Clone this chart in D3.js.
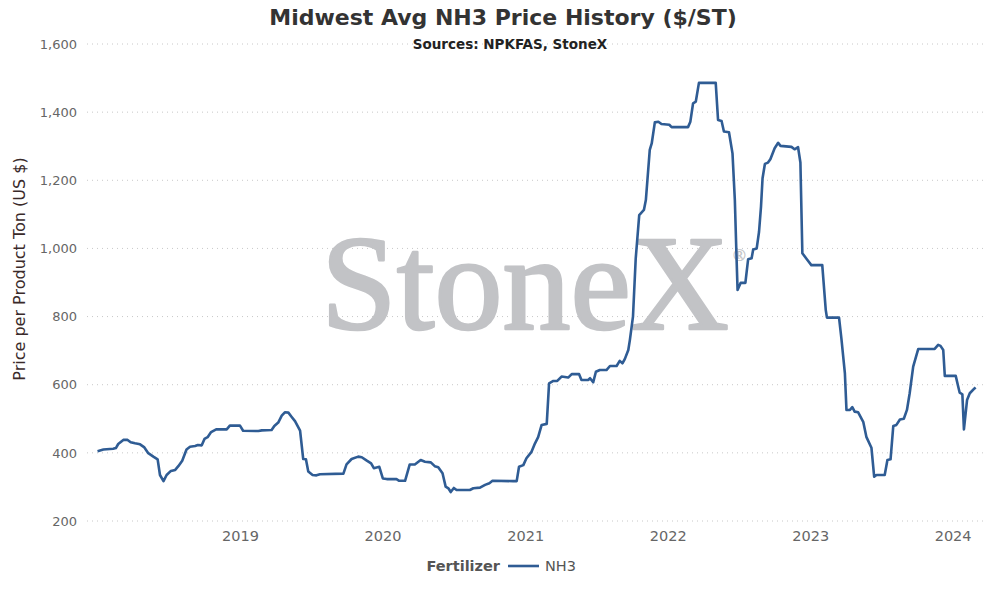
<!DOCTYPE html>
<html>
<head>
<meta charset="utf-8">
<script src="https://cdn.jsdelivr.net/npm/d3@7"></script>
<style>
  body { margin: 0; background: #fff; }
  svg { display: block; }
</style>
</head>
<body>
<div id="chart"></div>
<script>
// NH3 price, $/ST
const dates = [
  "2018-01-01","2018-01-16","2018-02-10","2018-02-17","2018-02-23","2018-03-08","2018-03-19","2018-03-27",
  "2018-04-07","2018-04-20","2018-05-01","2018-05-11","2018-05-24","2018-06-04","2018-06-10","2018-06-19",
  "2018-06-27","2018-07-08","2018-07-19","2018-07-27","2018-08-06","2018-08-17","2018-08-26","2018-09-08",
  "2018-09-15","2018-09-25","2018-10-02","2018-10-10","2018-10-19","2018-11-01","2018-11-28","2018-12-06",
  "2019-01-01","2019-01-09","2019-02-17","2019-02-26","2019-03-23","2019-03-30","2019-04-09","2019-04-18",
  "2019-04-26","2019-05-05","2019-05-13","2019-05-22","2019-06-04","2019-06-12","2019-06-19","2019-06-25",
  "2019-07-06","2019-07-16","2019-07-25","2019-09-23","2019-10-01","2019-10-14","2019-10-31","2019-11-09",
  "2019-11-22","2019-12-03","2019-12-10","2019-12-24","2020-01-02","2020-01-12","2020-02-06","2020-02-13",
  "2020-02-28","2020-03-11","2020-03-24","2020-04-08","2020-04-19","2020-05-04","2020-05-14","2020-05-23",
  "2020-06-03","2020-06-11","2020-06-18","2020-06-24","2020-07-02","2020-07-09","2020-08-12","2020-08-21",
  "2020-09-07","2020-09-20","2020-10-01","2020-10-09","2020-12-01","2020-12-10","2020-12-16","2020-12-27",
  "2021-01-04","2021-01-17","2021-01-26","2021-02-03","2021-02-12","2021-02-25","2021-03-03","2021-03-14",
  "2021-03-24","2021-04-04","2021-04-21","2021-04-30","2021-05-19","2021-05-25","2021-06-11","2021-06-16",
  "2021-06-24","2021-07-01","2021-07-11","2021-07-28","2021-08-06","2021-08-23","2021-08-31","2021-09-07",
  "2021-09-13","2021-09-22","2021-09-26","2021-10-04","2021-10-11","2021-10-20","2021-11-01","2021-11-06",
  "2021-11-16","2021-11-21","2021-11-29","2021-12-08","2021-12-16","2022-01-05","2022-01-11","2022-02-22",
  "2022-02-28","2022-03-07","2022-03-14","2022-03-22","2022-05-04","2022-05-10","2022-05-19","2022-05-25",
  "2022-06-07","2022-06-16","2022-06-22","2022-06-26","2022-06-29","2022-07-07","2022-07-19","2022-07-26",
  "2022-08-04","2022-08-08","2022-08-17","2022-08-23","2022-08-28","2022-09-01","2022-09-07","2022-09-15",
  "2022-09-21","2022-10-02","2022-10-11","2022-10-17","2022-11-14","2022-11-22","2022-12-01","2022-12-07",
  "2022-12-12","2022-12-23","2023-01-04","2023-02-01","2023-02-10","2023-02-13","2023-03-16","2023-03-22",
  "2023-03-31","2023-04-04","2023-04-13","2023-04-19","2023-04-25","2023-05-04","2023-05-17","2023-05-25",
  "2023-06-07","2023-06-14","2023-06-20","2023-07-11","2023-07-18","2023-07-26","2023-08-02","2023-08-10",
  "2023-08-19","2023-08-29","2023-09-06","2023-09-13","2023-09-22","2023-10-05","2023-11-16","2023-11-25",
  "2023-12-01","2023-12-08","2023-12-12","2024-01-09","2024-01-15","2024-01-19","2024-01-26","2024-01-30",
  "2024-02-07","2024-02-14","2024-02-26","2024-02-29"
];
const nh3 = [
  405,410,412,414,426,438,438,431,
  428,425,416,399,389,381,335,317,
  335,347,350,361,377,410,418,420,
  423,422,441,446,461,469,469,480,
  480,465,464,466,467,479,489,509,
  519,518,506,493,465,382,381,345,
  335,334,337,339,366,382,389,387,
  377,369,355,359,325,323,323,318,
  318,366,366,379,374,372,361,358,
  340,301,296,285,297,291,291,296,
  298,306,311,318,317,317,359,364,
  384,403,428,446,482,485,604,611,
  611,624,621,631,631,614,614,619,
  607,638,643,643,655,655,670,663,
  675,702,731,800,970,1098,1113,1142,
  1289,1308,1370,1372,1365,1363,1356,1356,
  1372,1426,1431,1486,1486,1377,1374,1343,
  1341,1279,1142,986,878,899,899,968,
  971,997,1000,1049,1122,1206,1248,1252,
  1262,1294,1310,1301,1298,1291,1297,1252,
  986,969,951,951,819,797,797,736,
  633,526,526,534,521,519,491,447,
  415,330,335,335,379,381,479,482,
  498,500,526,575,653,705,705,717,
  714,702,626,626,596,577,572,469,
  555,575,589,592
];
const yTicks = [200, 400, 600, 800, 1000, 1200, 1400, 1600];
const xTicks = ["2019-01-01","2020-01-01","2021-01-01","2022-01-01","2023-01-01","2024-01-01"];

const width = 1002, height = 598;
const font = "'DejaVu Sans', Verdana, sans-serif";
const parse = d3.timeParse("%Y-%m-%d");
const data = dates.map((d, i) => ({ date: parse(d), value: nh3[i] }));

const svg = d3.select("#chart").append("svg")
  .attr("width", width).attr("height", height)
  .style("font-family", font);

const x = d3.scaleTime()
  .domain([parse("2017-12-05"), parse("2024-03-24")])
  .range([87, 985]);
const y = d3.scaleLinear().domain([200, 1600]).range([521, 44]);

// dotted grid
svg.append("g").selectAll("line")
  .data(yTicks).enter().append("line")
  .attr("x1", 87).attr("x2", 985)
  .attr("y1", d => y(d)).attr("y2", d => y(d))
  .attr("stroke", "#c8c8c8").attr("stroke-width", 1)
  .attr("stroke-dasharray", "1,4");

// watermark
const wm = svg.append("text")
  .attr("x", 321).attr("y", 329)
  .attr("font-family", "'Liberation Serif', 'Times New Roman', serif")
  .attr("font-size", 136)
  .attr("fill", "#c2c3c6")
  .attr("stroke", "#c2c3c6")
  .attr("stroke-width", 2.6)
  .attr("stroke-linejoin", "round")
  .text("StoneX");
wm.append("tspan").attr("font-size", 17).attr("stroke-width", 0.3)
  .attr("dy", -68).attr("dx", 4).text("®");

// y axis
const yAxis = svg.append("g")
  .attr("transform", "translate(80,0)")
  .call(d3.axisLeft(y).tickValues(yTicks).tickSize(0).tickFormat(d3.format(",")));
yAxis.select(".domain").remove();
yAxis.selectAll("text").attr("fill", "#666").attr("font-size", 13).attr("font-family", font);

// x axis
const xAxis = svg.append("g")
  .attr("transform", "translate(0,527)")
  .call(d3.axisBottom(x).tickValues(xTicks.map(parse)).tickSize(0).tickFormat(d3.timeFormat("%Y")));
xAxis.select(".domain").remove();
xAxis.selectAll("text").attr("fill", "#666").attr("font-size", 14.5).attr("dy", "0.75em")
  .attr("font-family", font);

// line
svg.append("path")
  .datum(data)
  .attr("fill", "none")
  .attr("stroke", "#2f5c94")
  .attr("stroke-width", 2.6)
  .attr("stroke-linejoin", "round")
  .attr("d", d3.line().x(d => x(d.date)).y(d => y(d.value)));

// titles
svg.append("text")
  .attr("x", 503).attr("y", 25)
  .attr("text-anchor", "middle")
  .attr("font-size", 22).attr("font-weight", "bold").attr("fill", "#333")
  .text("Midwest Avg NH3 Price History ($/ST)");
svg.append("text")
  .attr("x", 510).attr("y", 49)
  .attr("text-anchor", "middle")
  .attr("font-size", 13.5).attr("font-weight", "bold").attr("fill", "#222")
  .text("Sources: NPKFAS, StoneX");

svg.append("text")
  .attr("transform", "translate(25,269) rotate(-90)")
  .attr("text-anchor", "middle")
  .attr("font-size", 16).attr("fill", "#3a2a2a")
  .text("Price per Product Ton (US $)");

// legend
const lg = svg.append("g");
lg.append("text").attr("x", 500).attr("y", 571).attr("text-anchor", "end")
  .attr("font-size", 14.5).attr("font-weight", "bold").attr("fill", "#555")
  .text("Fertilizer");
lg.append("line").attr("x1", 508).attr("x2", 539).attr("y1", 566).attr("y2", 566)
  .attr("stroke", "#2f5c94").attr("stroke-width", 2.6);
lg.append("text").attr("x", 545).attr("y", 571)
  .attr("font-size", 14.5).attr("fill", "#555")
  .text("NH3");
</script>
</body>
</html>
